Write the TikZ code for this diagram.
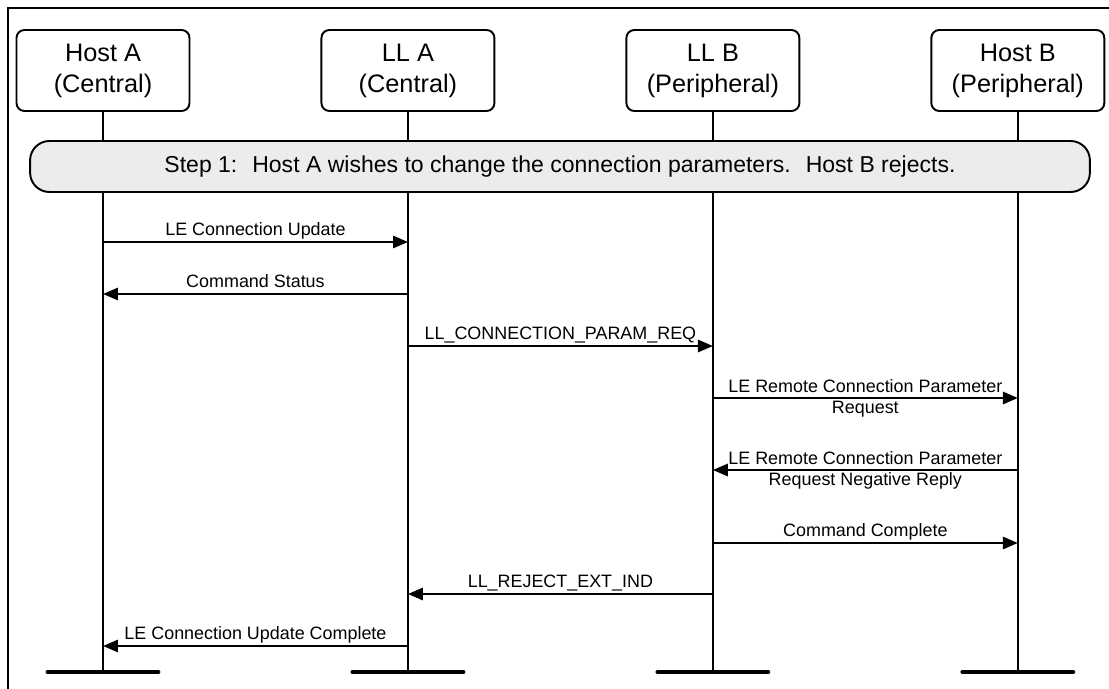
\documentclass[tikz,border=0pt]{standalone}
\usepackage{fontspec}
\setmainfont{Liberation Sans}
\usetikzlibrary{positioning,arrows.meta}
\tikzset{node distance =6.1cm ,on grid ,
hdr/.style ={draw, fill=white, rounded corners=4.5pt, line width=1.1pt, minimum width=3.46cm, minimum height=1.62cm, align=center, font=\fontsize{14.4}{17.6}\selectfont},
banner/.style ={draw, fill=gray!15, rounded corners=11pt, line width=1.1pt, minimum width=21.2cm, minimum height=1.02cm, font=\fontsize{13.1}{15}\selectfont},
life/.style ={line width=1.1pt},
bar/.style ={line width=2.8pt, line cap=round},
msg/.style ={line width=1.1pt, -{Triangle[length=8.5pt,width=7pt]}},
lbl/.style ={above, inner sep=1pt, text depth=2pt, font=\fontsize{10.2}{12}\selectfont},
lbltwo/.style ={align=center, inner sep=0pt, font=\fontsize{10.2}{12}\selectfont}}

\begin{document}
\begin{tikzpicture}[x=0.02cm, y=-0.02cm]
\useasboundingbox (0,0) rectangle (1109,689);
\draw[line width=1.1pt] (8,700) -- (8,8) -- (1120,8);
\node[hdr] (ha) at (103,70.5) {Host A\\(Central)};
\node[hdr] (la) [right=of ha] {LL A\\(Central)};
\node[hdr] (lb) [right=of la] {LL B\\(Peripheral)};
\node[hdr] (hb) [right=of lb] {Host B\\(Peripheral)};
\foreach \l in {ha,la,lb,hb} {
  \coordinate (\l end) at (\l |- 0,672);
  \draw[life] (\l.south) -- (\l end);
  \draw[bar] ([xshift=-1.1cm]\l end) -- ([xshift=1.1cm]\l end);
  \foreach \n/\y in {1/242,2/294,3/346,4/398,5/470,6/543,7/594,8/646}
    \coordinate (\l\n) at (\l |- 0,\y);
}
\node[banner] (step) at (560,166.5) {Step 1:~ Host A wishes to change the connection parameters.~ Host B rejects.};
\path
    (ha1) edge[msg] node[lbl] {LE Connection Update} (la1)
    (la2) edge[msg] node[lbl] {Command Status} (ha2)
    (la3) edge[msg] node[lbl] {LL\_CONNECTION\_PARAM\_REQ} (lb3)
    (lb4) edge[msg] node[lbltwo] {LE Remote Connection Parameter\\Request} (hb4)
    (hb5) edge[msg] node[lbltwo] {LE Remote Connection Parameter\\Request Negative Reply} (lb5)
    (lb6) edge[msg] node[lbl] {Command Complete} (hb6)
    (lb7) edge[msg] node[lbl] {LL\_REJECT\_EXT\_IND} (la7)
    (la8) edge[msg] node[lbl] {LE Connection Update Complete} (ha8);
\end{tikzpicture}
\end{document}
